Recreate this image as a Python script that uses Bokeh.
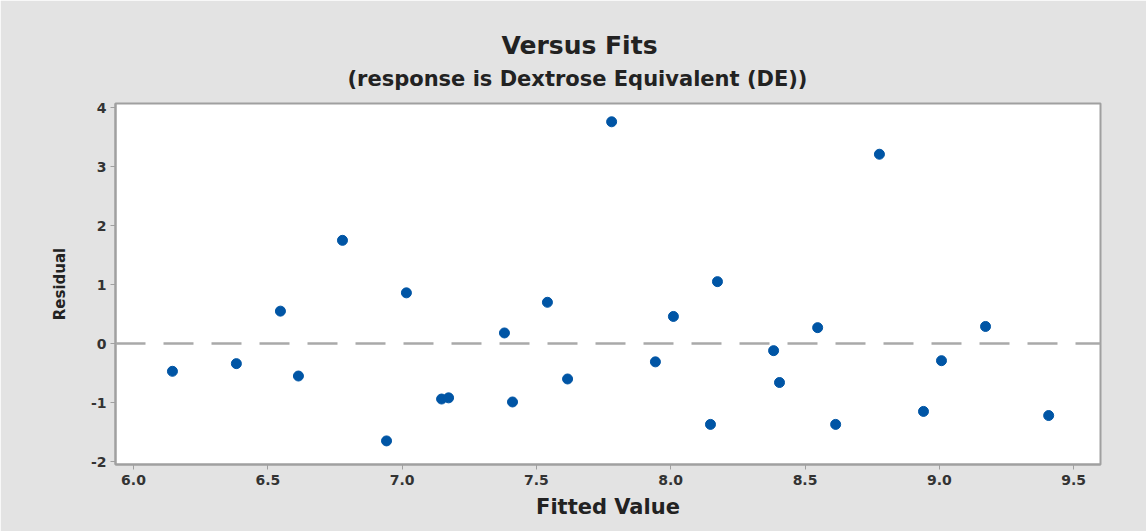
from bokeh.plotting import figure
from bokeh.models import Span, Title, Range1d, FixedTicker
from bokeh.embed import file_html
from bokeh.resources import INLINE

# Data
fitted = [6.145, 6.383, 6.547, 6.614, 6.778, 6.942, 7.016, 7.147, 7.173,
          7.381, 7.411, 7.541, 7.616, 7.780, 7.943, 8.010, 8.148, 8.174,
          8.383, 8.405, 8.547, 8.614, 8.777, 8.941, 9.008, 9.172, 9.407]
residual = [-0.47, -0.34, 0.55, -0.55, 1.75, -1.65, 0.86, -0.94, -0.92,
            0.18, -0.99, 0.70, -0.60, 3.76, -0.31, 0.46, -1.37, 1.05,
            -0.12, -0.66, 0.27, -1.37, 3.21, -1.15, -0.29, 0.29, -1.22]
x_ticks = [6.0, 6.5, 7.0, 7.5, 8.0, 8.5, 9.0, 9.5]
y_ticks = [-2, -1, 0, 1, 2, 3, 4]

FONT = "DejaVu Sans"
TXT = "#222222"

p = figure(output_backend="svg", toolbar_location=None,
           frame_width=985, frame_height=361,
           min_border_left=115, min_border_top=103,
           min_border_right=46, min_border_bottom=67,
           x_range=Range1d(5.933, 9.60), y_range=Range1d(-2.05, 4.07),
           background_fill_color="white", border_fill_color="#e3e3e3")

p.outline_line_color = "#a0a0a0"
p.outline_line_width = 2
p.xgrid.visible = False
p.ygrid.visible = False

for ax in (p.xaxis[0], p.yaxis[0]):
    ax.axis_line_color = "#a0a0a0"
    ax.axis_line_width = 2
    ax.major_tick_line_color = "#a0a0a0"
    ax.major_tick_line_width = 1
    ax.major_tick_out = 5
    ax.major_tick_in = 0
    ax.minor_tick_line_color = None
    ax.major_label_text_font = FONT
    ax.major_label_text_font_style = "bold"
    ax.major_label_text_font_size = "14px"
    ax.major_label_text_color = "#333333"
    ax.axis_label_text_font = FONT
    ax.axis_label_text_font_style = "bold"
    ax.axis_label_text_color = TXT

p.xaxis[0].ticker = FixedTicker(ticks=x_ticks)
p.yaxis[0].ticker = FixedTicker(ticks=y_ticks)
p.xaxis[0].major_label_overrides = {t: f"{t:.1f}" for t in x_ticks}
p.yaxis[0].major_label_overrides = {t: f"{t}" for t in y_ticks}
p.xaxis[0].major_label_standoff = 5
p.yaxis[0].major_label_standoff = 4
p.xaxis[0].axis_label = "Fitted Value"
p.xaxis[0].axis_label_text_font_size = "21px"
p.xaxis[0].axis_label_standoff = 7
p.yaxis[0].axis_label = "Residual"
p.yaxis[0].axis_label_text_font_size = "15px"
p.yaxis[0].axis_label_standoff = 19

p.add_layout(Span(location=0, dimension="width", line_color="#a9a9a9",
                  line_width=2.5, line_dash="30 18"))

p.scatter(fitted, residual, size=10, marker="circle",
          fill_color="#0055a5", line_color="#0055a5")

p.title = None
sub = Title(text="(response is Dextrose Equivalent (DE))", align="left",
            text_font=FONT, text_font_style="bold", text_font_size="21px",
            text_color=TXT, offset=232, standoff=26)
main = Title(text="Versus Fits", align="left",
             text_font=FONT, text_font_style="bold", text_font_size="25px",
             text_color=TXT, offset=386, standoff=-16)
p.add_layout(sub, "above")
p.add_layout(main, "above")

open("out.html", "w").write(file_html(p, INLINE))
